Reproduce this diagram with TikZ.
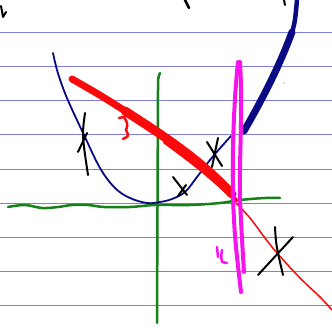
\documentclass[tikz,border=0pt]{standalone}
\begin{document}
\begin{tikzpicture}[x=1pt,y=-1pt,line cap=round,line join=round,
  paper/.style={draw=ruled,line width=1pt},
  ink/.style={draw=black,line width=2pt},
  navyink/.style={draw=navyc},
  redink/.style={draw=redc},
  greenink/.style={draw=greenc,line width=2.5pt},
  magink/.style={draw=magc,line width=4pt}]
\definecolor{ruled}{RGB}{125,125,228}
\definecolor{navyc}{RGB}{10,10,130}
\definecolor{redc}{RGB}{250,10,10}
\definecolor{greenc}{RGB}{20,130,25}
\definecolor{magc}{RGB}{245,20,235}
\useasboundingbox[fill=white] (0,0) rectangle (332,328);
% ruled paper
\foreach \yy in {32.5,67,101,135,169.5,204,238,272,306}
  \draw[paper] (0,\yy) -- (332,\yy);
% top black marks
\draw[ink] (1,6) .. controls (2,12) .. (3,17) -- (6,12);
\draw[ink,line width=2.5pt] (185,0) -- (189,8);
\draw[ink] (284,0) -- (285,5);
% green axes
\draw[greenink] (160,73) .. controls (158,78) .. (158,90) -- (157,323);
\draw[greenink] plot[smooth,tension=0.6] coordinates {(8,207) (25,205) (42,208) (58,207) (72,205) (88,205) (104,207) (130,207) (155,205) (190,205) (220,203) (240,200) (265,198) (280,198)};
% navy curve
\draw[navyink,line width=1.8pt] plot[smooth,tension=0.6] coordinates {(53,53) (57,70) (63,88) (70,105) (84,135) (100,168) (115,188) (130,198) (147,203) (160,202) (172,199) (185,192) (197,177) (210,160) (222,146) (231,136)};
\draw[navyink,line width=7pt] (244,131) .. controls (262,100) and (280,65) .. (292,32);
\draw[navyink,line width=4.5pt] (291,36) .. controls (295,22) .. (297,0);
% red line
\draw[redink,line width=7pt] (72,79) .. controls (100,95) .. (130,114);
\draw[redink,line width=9pt] (125,111) .. controls (170,140) and (200,160) .. (232,194);
\draw[redink,line width=4pt] (165,142) .. controls (200,168) .. (236,200);
\draw[redink,line width=1.5pt] plot[smooth] coordinates {(236,203) (250,218) (265,238) (277,253) (300,278) (320,297) (332,310)};
\draw[redink,line width=2.5pt] (119,118) -- (124,117) .. controls (128,124) .. (126,130) .. controls (129,136) .. (123,139);
% magenta line
\draw[magink] (238,62) .. controls (234,100) and (232,150) .. (233,200) .. controls (235,240) .. (241,292);
\draw[magink] (240,62) .. controls (243,110) and (239,160) .. (240,200) .. controls (242,240) .. (244,272);
\draw[magink,line width=2.5pt] (217,247) -- (218,257);
\draw[magink,line width=2.5pt] (222,250) .. controls (221,258) .. (222,262) -- (227,263);
% crosses
\draw[ink] (85,113) .. controls (82,135) .. (88,175);
\draw[ink] (78,152) -- (87,133);
\draw[ink] (207,142) -- (222,166);
\draw[ink] (218,138) -- (212,167);
\draw[ink] (173,177) -- (187,195);
\draw[ink] (186,185) -- (178,196);
\draw[ink] (275,227) .. controls (276,245) .. (283,275);
\draw[ink] (258,275) -- (293,237);
\fill[greenc] (284,83) circle (0.7);
\end{tikzpicture}
\end{document}
